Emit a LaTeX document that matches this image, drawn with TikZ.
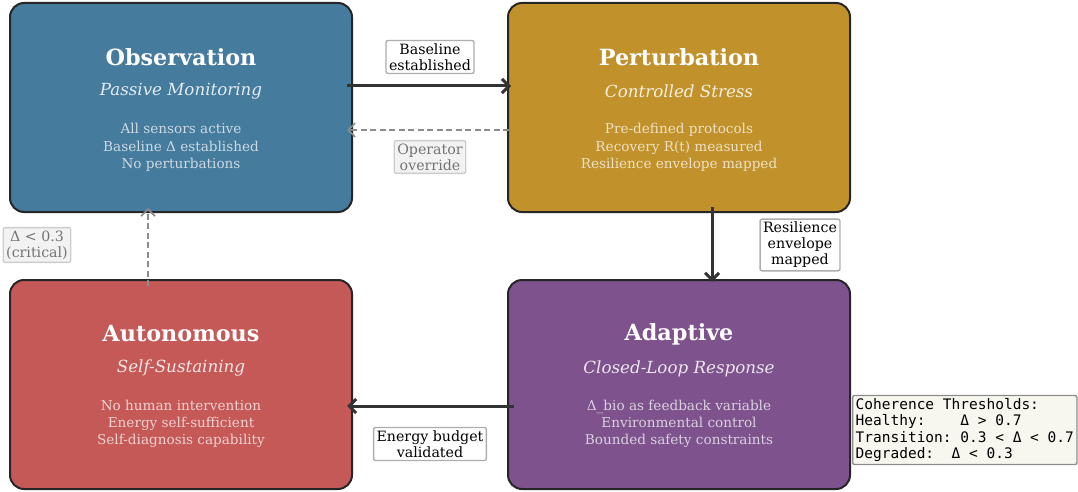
\documentclass[tikz,border=0pt]{standalone}
\usepackage{fontspec}
\usetikzlibrary{arrows.meta}
\setmainfont{DejaVu Serif}
\setmonofont{DejaVu Sans Mono}

\definecolor{obsblue}{HTML}{457B9D}
\definecolor{pergold}{HTML}{C1922B}
\definecolor{autored}{HTML}{C55957}
\definecolor{adppurple}{HTML}{7E528D}
\definecolor{flowgray}{HTML}{333333}
\definecolor{notebeige}{HTML}{F8F7EF}

\tikzset{
  >={Straight Barb[length=7pt,width=14pt]},
  phase/.style={draw=black!85, line width=2pt, rounded corners=14pt,
    minimum width=342pt, minimum height=209pt},
  phasetitle/.style={white, font=\fontsize{22.3}{26}\selectfont\bfseries},
  phasesub/.style={white!85!#1, font=\fontsize{16.7}{20}\selectfont\itshape},
  phasebody/.style={white!72!#1, align=center, font=\fontsize{13.6}{17.3}\selectfont},
  flow/.style={flowgray, line width=3pt, ->},
  backflow/.style={black!45, line width=1.6pt, dash pattern=on 6pt off 3.5pt, ->},
  tag/.style={draw=black!32, fill=white, line width=1.4pt, rounded corners=2pt,
    align=center, inner sep=3pt, font=\fontsize{14.2}{16}\selectfont},
  faint/.style={tag, draw=black!20, fill=black!5, text=black!55}
}

\begin{document}
\begin{tikzpicture}[x=1pt,y=-1pt]

    \useasboundingbox (0,0) rectangle (1078,492);

    % the four phases
    \node[phase, fill=obsblue] (obs) at (181,107.5) {};
    \node[phase, fill=pergold] (per) at (679,107.5) {};
    \node[phase, fill=autored] (aut) at (181,384.5) {};
    \node[phase, fill=adppurple] (adp) at (679,384.5) {};

    \node[phasetitle] (obs-title) at (181,57) {Observation};
    \node[phasesub=obsblue] (obs-sub) at (181,91.5) {Passive Monitoring};
    \node[phasebody=obsblue] (obs-body) at (181,147.5) {All sensors active\\Baseline Δ established\\No perturbations};

    \node[phasetitle] (per-title) at (679,57) {Perturbation};
    \node[phasesub=pergold] (per-sub) at (679,91.5) {Controlled Stress};
    \node[phasebody=pergold] (per-body) at (679,147.5) {Pre-defined protocols\\Recovery R(t) measured\\Resilience envelope mapped};

    \node[phasetitle] (aut-title) at (181,334) {Autonomous};
    \node[phasesub=autored] (aut-sub) at (181,368.5) {Self-Sustaining};
    \node[phasebody=autored] (aut-body) at (181,424) {No human intervention\\Energy self-sufficient\\Self-diagnosis capability};

    \node[phasetitle] (adp-title) at (679,334) {Adaptive};
    \node[phasesub=adppurple] (adp-sub) at (679,368.5) {Closed-Loop Response};
    \node[phasebody=adppurple] (adp-body) at (679,424) {Δ\_bio as feedback variable\\Environmental control\\Bounded safety constraints};

    % transitions
    \draw[flow] ([xshift=-6pt,yshift=21.5pt]obs.east) -- ([xshift=4pt,yshift=21.5pt]per.west);
    \draw[backflow] ([xshift=2pt,yshift=-22.5pt]per.west) -- ([xshift=-6pt,yshift=-22.5pt]obs.east);
    \draw[flow] ([xshift=33pt,yshift=6pt]per.south) -- ([xshift=33pt,yshift=-3pt]adp.north);
    \draw[flow] ([xshift=7pt,yshift=-21.5pt]adp.west) -- ([xshift=-6pt,yshift=-21.5pt]aut.east);
    \draw[backflow] ([xshift=-33pt,yshift=-7pt]aut.north) -- ([xshift=-33pt,yshift=5pt]obs.south);

    \node[tag] (lbl-base) at (430,57) {Baseline\\established};
    \node[faint] (lbl-over) at (430,157) {Operator\\override};
    \node[tag] (lbl-res) at (800,245) {Resilience\\envelope\\mapped};
    \node[tag] (lbl-energy) at (430,444) {Energy budget\\validated};
    \node[faint] (lbl-crit) at (37,245) {Δ < 0.3\\(critical)};

    % thresholds note
    \node[draw=black!45, fill=notebeige, line width=1.3pt, rounded corners=2pt,
      anchor=west, align=left, inner sep=3pt, font=\fontsize{14.5}{16.3}\selectfont\ttfamily]
      (thresholds) at (852,430) {Coherence Thresholds:\\Healthy:~~~~Δ > 0.7\\Transition: 0.3 < Δ < 0.7\\Degraded:~~Δ < 0.3};

\end{tikzpicture}
\end{document}
